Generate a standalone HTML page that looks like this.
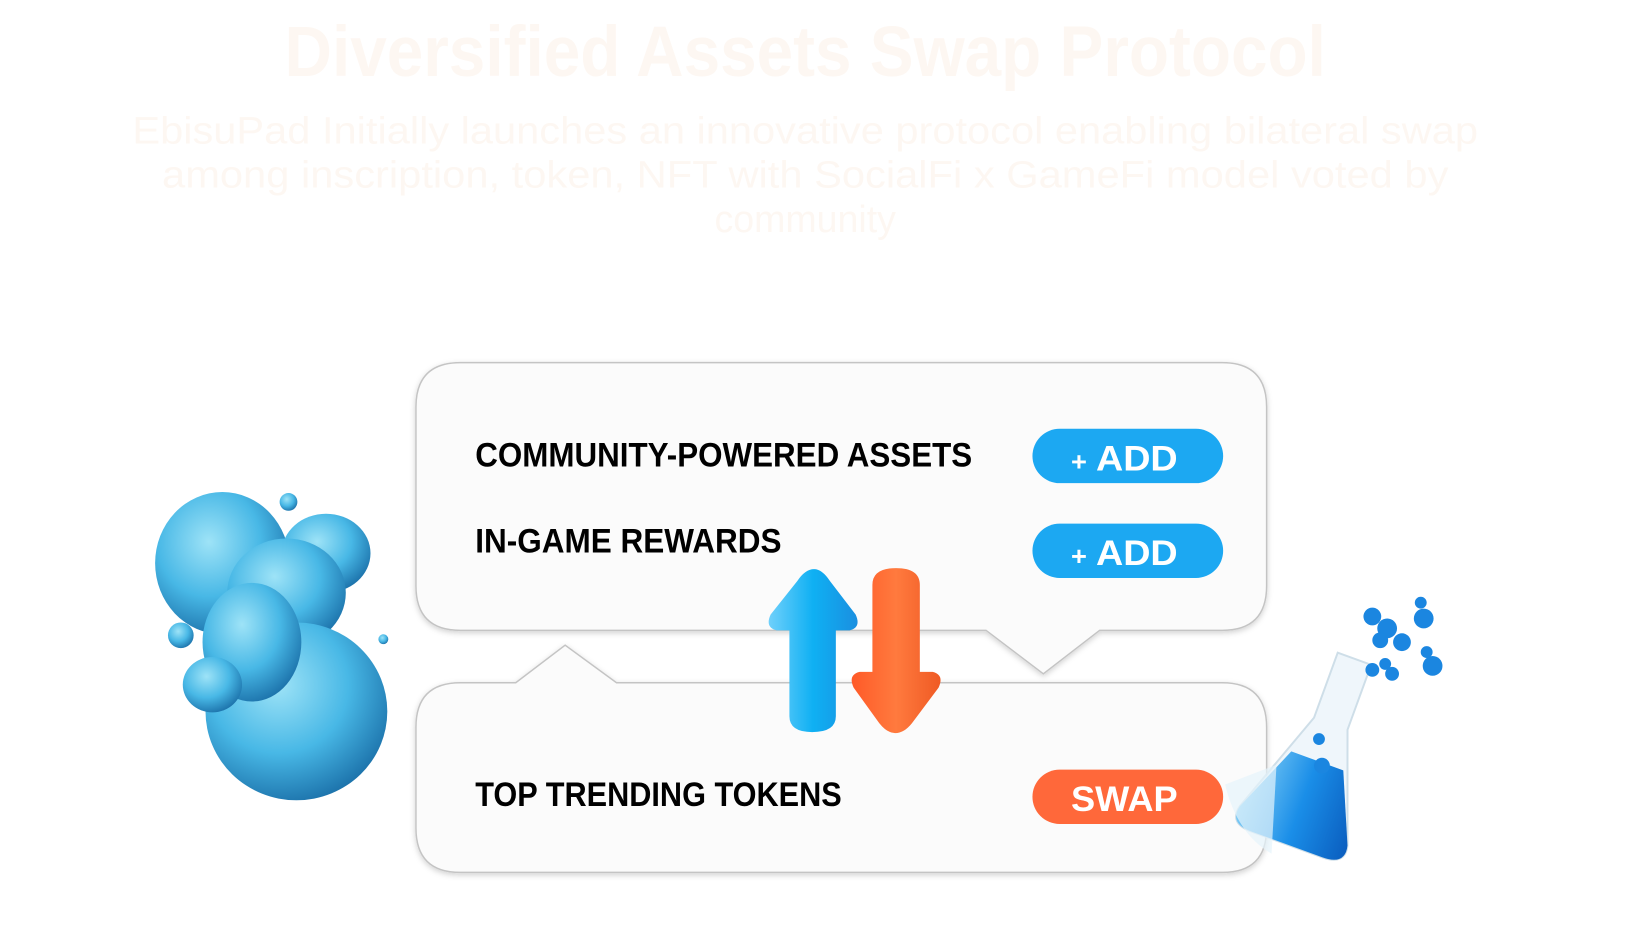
<!DOCTYPE html>
<html><head><meta charset="utf-8"><style>
html,body{margin:0;padding:0;background:#fff;width:1640px;height:937px;overflow:hidden}
svg{display:block}
</style></head><body>
<svg width="1640" height="937" viewBox="0 0 1640 937" xmlns="http://www.w3.org/2000/svg">
<defs>
<radialGradient id="bl" cx="40%" cy="35%" r="70%"><stop offset="0" stop-color="#9ee3f7"/><stop offset="0.55" stop-color="#48b8e6"/><stop offset="1" stop-color="#1a6fa8"/></radialGradient>
<linearGradient id="up" x1="0" x2="1"><stop offset="0" stop-color="#6fd0fb"/><stop offset="0.5" stop-color="#0fb0f3"/><stop offset="1" stop-color="#1a8fe0"/></linearGradient>
<linearGradient id="dn" x1="0" x2="1"><stop offset="0" stop-color="#ff5a28"/><stop offset="0.5" stop-color="#ff7a3e"/><stop offset="1" stop-color="#ef5a24"/></linearGradient>
<linearGradient id="fl" x1="0" x2="1"><stop offset="0" stop-color="#7ccbf5"/><stop offset="0.5" stop-color="#1a8ee8"/><stop offset="1" stop-color="#0b5fc0"/></linearGradient>
<filter id="sh" x="-5%" y="-5%" width="110%" height="115%"><feDropShadow dx="0" dy="2" stdDeviation="3" flood-color="#000" flood-opacity="0.18"/></filter>
</defs>
<g transform="scale(0.988)">
<g font-family="Liberation Sans, sans-serif" fill="#fdf7f2" text-anchor="middle">
<text x="815" y="77" font-size="72" font-weight="bold" textLength="1054" lengthAdjust="spacingAndGlyphs">Diversified Assets Swap Protocol</text>
<text x="815" y="145" font-size="38" textLength="1362" lengthAdjust="spacingAndGlyphs">EbisuPad Initially launches an innovative protocol enabling bilateral swap</text>
<text x="815" y="190" font-size="38" textLength="1302" lengthAdjust="spacingAndGlyphs">among inscription, token, NFT with SocialFi x GameFi model voted by</text>
<text x="815" y="235" font-size="38">community</text>
</g>
<path filter="url(#sh)" d="M466,367 H1237 Q1282,367 1282,412 V593 Q1282,638 1237,638 H1113 L1056,682 L998,638 H466 Q421,638 421,593 V412 Q421,367 466,367 Z" fill="#fbfbfb" stroke="#c4c4c4" stroke-width="1.5"/>
<path filter="url(#sh)" d="M466,691 H522 L572,653 L624,691 H1237 Q1282,691 1282,736 V838 Q1282,883 1237,883 H466 Q421,883 421,838 V736 Q421,691 466,691 Z" fill="#fbfbfb" stroke="#c4c4c4" stroke-width="1.5"/>
<g font-family="Liberation Sans, sans-serif" font-weight="bold" fill="#000">
<text x="481" y="472" font-size="35" textLength="503" lengthAdjust="spacingAndGlyphs">COMMUNITY-POWERED ASSETS</text>
<text x="481" y="559" font-size="35" textLength="310" lengthAdjust="spacingAndGlyphs">IN-GAME REWARDS</text>
<text x="481" y="816" font-size="35" textLength="371" lengthAdjust="spacingAndGlyphs">TOP TRENDING TOKENS</text>
</g>
<rect x="1045" y="434" width="193" height="55" rx="27.5" fill="#1ca8f2"/>
<rect x="1045" y="530" width="193" height="55" rx="27.5" fill="#1ca8f2"/>
<rect x="1045" y="779" width="193" height="55" rx="27.5" fill="#ff683a"/>
<g font-family="Liberation Sans, sans-serif" font-weight="bold" fill="#fff">
<text x="1084" y="476" font-size="36" textLength="108" lengthAdjust="spacingAndGlyphs"><tspan font-size="26">+</tspan> ADD</text>
<text x="1084" y="572" font-size="36" textLength="108" lengthAdjust="spacingAndGlyphs"><tspan font-size="26">+</tspan> ADD</text>
<text x="1084" y="821" font-size="36" textLength="108" lengthAdjust="spacingAndGlyphs">SWAP</text>
</g>
<path d="M824,576 Q832,576 840,588 L866,622 Q872,635 860,638 L846,638 V725 Q846,741 822,741 Q799,741 799,725 V638 L786,638 Q774,635 780,622 L807,588 Q815,576 824,576 Z" fill="url(#up)"/>
<path d="M907,575 Q931,575 931,592 V680 L944,680 Q956,683 950,696 L923,732 Q915,742 906,742 Q898,742 890,732 L864,696 Q858,683 870,680 L883,680 V592 Q883,575 907,575 Z" fill="url(#dn)"/>
<g fill="url(#bl)">
<ellipse cx="225" cy="570" rx="68" ry="72"/>
<ellipse cx="330" cy="560" rx="45" ry="40"/>
<ellipse cx="290" cy="600" rx="60" ry="55"/>
<ellipse cx="300" cy="720" rx="92" ry="90"/>
<ellipse cx="255" cy="650" rx="50" ry="60"/>
<ellipse cx="215" cy="693" rx="30" ry="28"/>
<circle cx="292" cy="508" r="9"/>
<circle cx="183" cy="643" r="13"/>
<circle cx="388" cy="647" r="5"/>
</g>
<g transform="translate(22,12)">
<g transform="rotate(20 1320 740)">
<path d="M1300,650 h36 v70 l40,110 q5,20 -20,20 h-76 q-25,0 -20,-20 l40,-110 z" fill="#eef6fb" stroke="#c9dbe6" stroke-width="2" opacity="0.9"/>
<path d="M1290,760 h56 l30,70 q5,20 -20,20 h-76 q-25,0 -20,-20 z" fill="url(#fl)"/>
</g>
<path d="M1218,782 L1270,762 L1265,852 Q1230,832 1218,782 Z" fill="#e6f3fb" opacity="0.7"/>
<circle cx="1313" cy="736" r="6" fill="#1b86e0"/><circle cx="1316" cy="763" r="8" fill="#1b86e0"/>
</g>
<g fill="#1b86e0" transform="translate(4,6)">
<circle cx="1385" cy="618" r="9"/><circle cx="1400" cy="630" r="10"/><circle cx="1415" cy="644" r="9"/><circle cx="1393" cy="642" r="8"/>
<circle cx="1437" cy="620" r="10"/><circle cx="1434" cy="604" r="6"/>
<circle cx="1446" cy="668" r="10"/><circle cx="1440" cy="654" r="6"/>
<circle cx="1385" cy="672" r="7"/><circle cx="1398" cy="666" r="6"/><circle cx="1405" cy="676" r="7"/>
</g>
</g>
</svg>
</body></html>
